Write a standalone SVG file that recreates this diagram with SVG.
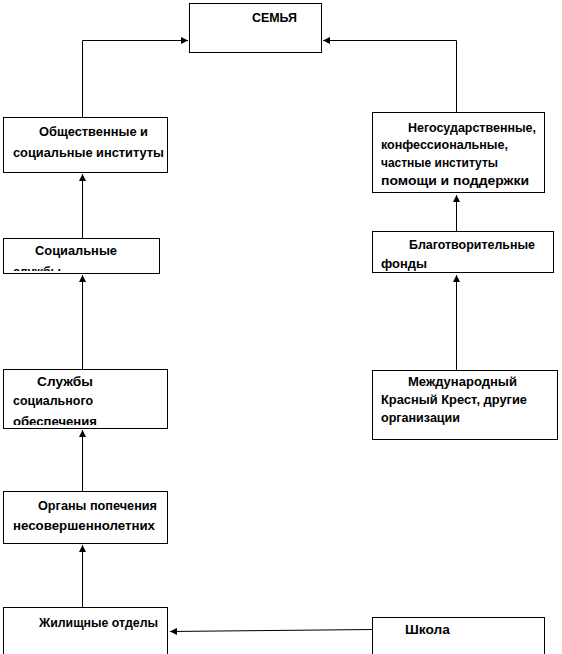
<svg xmlns="http://www.w3.org/2000/svg" width="562" height="654" viewBox="0 0 562 654">
<style>
.box{fill:#fff;stroke:#000;stroke-width:1}
.t{font-family:"Liberation Sans",Arial,sans-serif;font-weight:bold;font-size:12px;fill:#000}
.c{fill:none;stroke:#000;stroke-width:1}
</style>
<defs>
<marker id="ah" markerWidth="8" markerHeight="7" refX="7" refY="3.5" orient="auto" markerUnits="userSpaceOnUse">
<path d="M0,0 L7,3.5 L0,7 Z" fill="#000"/>
</marker>
<clipPath id="clipSoc"><rect x="3" y="238" width="157" height="33"/></clipPath>
<clipPath id="clipSl"><rect x="3" y="369" width="165" height="56"/></clipPath>
</defs>
<g id="connectors">
<polyline class="c" points="82.5,117 82.5,40.5 188,40.5" marker-end="url(#ah)"/>
<polyline class="c" points="456.5,112 456.5,40.5 323,40.5" marker-end="url(#ah)"/>
<line class="c" x1="82.5" y1="238" x2="82.5" y2="174" marker-end="url(#ah)"/>
<line class="c" x1="82.5" y1="369" x2="82.5" y2="275" marker-end="url(#ah)"/>
<line class="c" x1="82.5" y1="491" x2="82.5" y2="430" marker-end="url(#ah)"/>
<line class="c" x1="82.5" y1="607" x2="82.5" y2="545" marker-end="url(#ah)"/>
<line class="c" x1="456.5" y1="231" x2="456.5" y2="195" marker-end="url(#ah)"/>
<line class="c" x1="456.5" y1="370" x2="456.5" y2="275" marker-end="url(#ah)"/>
<line class="c" x1="372" y1="629.5" x2="170" y2="631.5" marker-end="url(#ah)"/>
</g>
<g id="semya">
<rect class="box" x="189.5" y="3.5" width="132" height="49"/>
<text class="t" x="252" y="22" textLength="45" lengthAdjust="spacingAndGlyphs">СЕМЬЯ</text>
</g>
<g id="obshch">
<rect class="box" x="3.5" y="117.5" width="164" height="55"/>
<text class="t" x="39" y="136" textLength="109" lengthAdjust="spacingAndGlyphs">Общественные и</text>
<text class="t" x="13" y="157" textLength="151" lengthAdjust="spacingAndGlyphs">социальные институты</text>
</g>
<g id="socsl">
<rect class="box" x="3.5" y="238.5" width="156" height="35"/>
<text class="t" x="35" y="255" textLength="82" lengthAdjust="spacingAndGlyphs">Социальные</text>
<text class="t" x="13" y="276" textLength="48" lengthAdjust="spacingAndGlyphs" clip-path="url(#clipSoc)">службы</text>
</g>
<g id="sluzhby">
<rect class="box" x="3.5" y="369.5" width="164" height="59"/>
<text class="t" x="37" y="386" textLength="56" lengthAdjust="spacingAndGlyphs">Службы</text>
<text class="t" x="13" y="405" textLength="80" lengthAdjust="spacingAndGlyphs">социального</text>
<text class="t" x="13" y="426" textLength="84" lengthAdjust="spacingAndGlyphs" clip-path="url(#clipSl)">обеспечения</text>
</g>
<g id="organy">
<rect class="box" x="3.5" y="491.5" width="164" height="52"/>
<text class="t" x="38" y="510" textLength="119" lengthAdjust="spacingAndGlyphs">Органы попечения</text>
<text class="t" x="13" y="530" textLength="142" lengthAdjust="spacingAndGlyphs">несовершеннолетних</text>
</g>
<g id="zhil">
<rect class="box" x="3.5" y="607.5" width="164" height="50"/>
<text class="t" x="39" y="627" textLength="119" lengthAdjust="spacingAndGlyphs">Жилищные отделы</text>
</g>
<g id="negos">
<rect class="box" x="372.5" y="112.5" width="172" height="80"/>
<text class="t" x="408" y="132" textLength="128" lengthAdjust="spacingAndGlyphs">Негосударственные,</text>
<text class="t" x="381" y="149" textLength="127" lengthAdjust="spacingAndGlyphs">конфессиональные,</text>
<text class="t" x="381" y="167" textLength="117" lengthAdjust="spacingAndGlyphs">частные институты</text>
<text class="t" x="381" y="185" textLength="148" lengthAdjust="spacingAndGlyphs">помощи и поддержки</text>
</g>
<g id="blag">
<rect class="box" x="372.5" y="231.5" width="181" height="41"/>
<text class="t" x="409" y="249" textLength="126" lengthAdjust="spacingAndGlyphs">Благотворительные</text>
<text class="t" x="381" y="268" textLength="46" lengthAdjust="spacingAndGlyphs">фонды</text>
</g>
<g id="mezhd">
<rect class="box" x="372.5" y="370.5" width="185" height="69"/>
<text class="t" x="408" y="386" textLength="109" lengthAdjust="spacingAndGlyphs">Международный</text>
<text class="t" x="381" y="404" textLength="146" lengthAdjust="spacingAndGlyphs">Красный Крест, другие</text>
<text class="t" x="381" y="422" textLength="79" lengthAdjust="spacingAndGlyphs">организации</text>
</g>
<g id="shkola">
<rect class="box" x="372.5" y="617.5" width="172" height="40"/>
<text class="t" x="405" y="634" textLength="45" lengthAdjust="spacingAndGlyphs">Школа</text>
</g>
</svg>
